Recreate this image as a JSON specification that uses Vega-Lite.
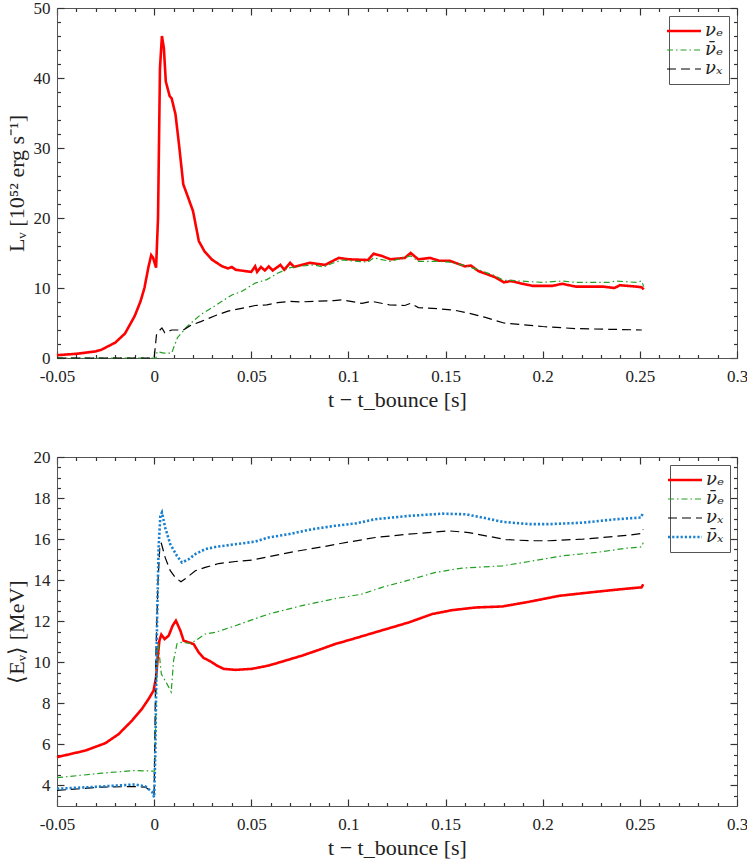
{
  "$schema": "https://vega.github.io/schema/vega-lite/v6.json",
  "background": "white",
  "padding": {"left": 4, "top": -2, "right": 0, "bottom": 0},
  "spacing": 36,
  "datasets": {
    "lum": [
      {"t": -0.05, "v": 0.4, "s": "νₑ"}, {"t": -0.04, "v": 0.6, "s": "νₑ"}, {"t": -0.03, "v": 0.95, "s": "νₑ"},
      {"t": -0.027, "v": 1.2, "s": "νₑ"}, {"t": -0.02, "v": 2.2, "s": "νₑ"}, {"t": -0.015, "v": 3.5, "s": "νₑ"},
      {"t": -0.01, "v": 6.0, "s": "νₑ"}, {"t": -0.007, "v": 8.1, "s": "νₑ"}, {"t": -0.005, "v": 10.0, "s": "νₑ"},
      {"t": -0.003, "v": 12.9, "s": "νₑ"}, {"t": -0.0015, "v": 14.7, "s": "νₑ"}, {"t": -0.0005, "v": 14.3, "s": "νₑ"},
      {"t": 0.0, "v": 13.8, "s": "νₑ"}, {"t": 0.001, "v": 12.9, "s": "νₑ"}, {"t": 0.002, "v": 20.0, "s": "νₑ"},
      {"t": 0.003, "v": 41.4, "s": "νₑ"}, {"t": 0.004, "v": 46.0, "s": "νₑ"}, {"t": 0.005, "v": 44.3, "s": "νₑ"},
      {"t": 0.006, "v": 39.5, "s": "νₑ"}, {"t": 0.008, "v": 37.4, "s": "νₑ"}, {"t": 0.009, "v": 37.1, "s": "νₑ"},
      {"t": 0.011, "v": 34.8, "s": "νₑ"}, {"t": 0.013, "v": 30.0, "s": "νₑ"}, {"t": 0.015, "v": 24.8, "s": "νₑ"},
      {"t": 0.017, "v": 23.3, "s": "νₑ"}, {"t": 0.02, "v": 21.0, "s": "νₑ"}, {"t": 0.023, "v": 16.7, "s": "νₑ"},
      {"t": 0.026, "v": 15.2, "s": "νₑ"}, {"t": 0.03, "v": 14.0, "s": "νₑ"}, {"t": 0.035, "v": 13.1, "s": "νₑ"},
      {"t": 0.038, "v": 12.8, "s": "νₑ"}, {"t": 0.04, "v": 13.0, "s": "νₑ"}, {"t": 0.042, "v": 12.6, "s": "νₑ"},
      {"t": 0.05, "v": 12.3, "s": "νₑ"}, {"t": 0.052, "v": 13.1, "s": "νₑ"}, {"t": 0.053, "v": 12.3, "s": "νₑ"},
      {"t": 0.055, "v": 13.0, "s": "νₑ"}, {"t": 0.057, "v": 12.5, "s": "νₑ"}, {"t": 0.059, "v": 13.1, "s": "νₑ"},
      {"t": 0.061, "v": 12.5, "s": "νₑ"}, {"t": 0.065, "v": 13.3, "s": "νₑ"}, {"t": 0.067, "v": 12.6, "s": "νₑ"},
      {"t": 0.07, "v": 13.6, "s": "νₑ"}, {"t": 0.072, "v": 13.0, "s": "νₑ"}, {"t": 0.08, "v": 13.6, "s": "νₑ"},
      {"t": 0.088, "v": 13.3, "s": "νₑ"}, {"t": 0.095, "v": 14.3, "s": "νₑ"}, {"t": 0.1, "v": 14.1, "s": "νₑ"},
      {"t": 0.11, "v": 14.0, "s": "νₑ"}, {"t": 0.113, "v": 14.9, "s": "νₑ"}, {"t": 0.117, "v": 14.6, "s": "νₑ"},
      {"t": 0.1216, "v": 14.1, "s": "νₑ"}, {"t": 0.129, "v": 14.3, "s": "νₑ"}, {"t": 0.132, "v": 15.0, "s": "νₑ"},
      {"t": 0.136, "v": 14.1, "s": "νₑ"}, {"t": 0.142, "v": 14.3, "s": "νₑ"}, {"t": 0.1466, "v": 13.9, "s": "νₑ"},
      {"t": 0.152, "v": 13.9, "s": "νₑ"}, {"t": 0.16, "v": 13.1, "s": "νₑ"}, {"t": 0.163, "v": 13.2, "s": "νₑ"},
      {"t": 0.167, "v": 12.4, "s": "νₑ"}, {"t": 0.175, "v": 11.6, "s": "νₑ"}, {"t": 0.18, "v": 10.8, "s": "νₑ"},
      {"t": 0.1836, "v": 11.0, "s": "νₑ"}, {"t": 0.188, "v": 10.7, "s": "νₑ"}, {"t": 0.195, "v": 10.3, "s": "νₑ"},
      {"t": 0.205, "v": 10.3, "s": "νₑ"}, {"t": 0.21, "v": 10.6, "s": "νₑ"}, {"t": 0.217, "v": 10.2, "s": "νₑ"},
      {"t": 0.231, "v": 10.2, "s": "νₑ"}, {"t": 0.237, "v": 10.0, "s": "νₑ"}, {"t": 0.2397, "v": 10.4, "s": "νₑ"},
      {"t": 0.248, "v": 10.2, "s": "νₑ"}, {"t": 0.2509, "v": 10.1, "s": "νₑ"}, {"t": 0.252, "v": 9.8, "s": "νₑ"},

      {"t": -0.05, "v": 0.0, "s": "ν̄ₑ"}, {"t": 0.001, "v": 0.0, "s": "ν̄ₑ"}, {"t": 0.0015, "v": 0.9, "s": "ν̄ₑ"},
      {"t": 0.005, "v": 0.7, "s": "ν̄ₑ"}, {"t": 0.009, "v": 0.7, "s": "ν̄ₑ"}, {"t": 0.012, "v": 2.9, "s": "ν̄ₑ"},
      {"t": 0.017, "v": 4.5, "s": "ν̄ₑ"}, {"t": 0.024, "v": 6.2, "s": "ν̄ₑ"}, {"t": 0.031, "v": 7.4, "s": "ν̄ₑ"},
      {"t": 0.036, "v": 8.3, "s": "ν̄ₑ"}, {"t": 0.04, "v": 9.0, "s": "ν̄ₑ"}, {"t": 0.045, "v": 9.5, "s": "ν̄ₑ"},
      {"t": 0.052, "v": 10.7, "s": "ν̄ₑ"}, {"t": 0.058, "v": 11.2, "s": "ν̄ₑ"}, {"t": 0.0635, "v": 12.1, "s": "ν̄ₑ"},
      {"t": 0.07, "v": 12.9, "s": "ν̄ₑ"}, {"t": 0.075, "v": 13.1, "s": "ν̄ₑ"}, {"t": 0.082, "v": 13.3, "s": "ν̄ₑ"},
      {"t": 0.087, "v": 13.0, "s": "ν̄ₑ"}, {"t": 0.0925, "v": 13.6, "s": "ν̄ₑ"}, {"t": 0.0966, "v": 14.0, "s": "ν̄ₑ"},
      {"t": 0.11, "v": 13.7, "s": "ν̄ₑ"}, {"t": 0.113, "v": 14.3, "s": "ν̄ₑ"}, {"t": 0.1216, "v": 13.8, "s": "ν̄ₑ"},
      {"t": 0.132, "v": 14.6, "s": "ν̄ₑ"}, {"t": 0.136, "v": 13.8, "s": "ν̄ₑ"}, {"t": 0.1466, "v": 13.8, "s": "ν̄ₑ"},
      {"t": 0.152, "v": 13.7, "s": "ν̄ₑ"}, {"t": 0.16, "v": 13.2, "s": "ν̄ₑ"}, {"t": 0.167, "v": 12.6, "s": "ν̄ₑ"},
      {"t": 0.175, "v": 11.8, "s": "ν̄ₑ"}, {"t": 0.18, "v": 11.1, "s": "ν̄ₑ"}, {"t": 0.1836, "v": 11.1, "s": "ν̄ₑ"},
      {"t": 0.188, "v": 11.0, "s": "ν̄ₑ"}, {"t": 0.2, "v": 10.8, "s": "ν̄ₑ"}, {"t": 0.21, "v": 11.0, "s": "ν̄ₑ"},
      {"t": 0.217, "v": 10.8, "s": "ν̄ₑ"}, {"t": 0.234, "v": 10.8, "s": "ν̄ₑ"}, {"t": 0.2379, "v": 11.0, "s": "ν̄ₑ"},
      {"t": 0.248, "v": 10.8, "s": "ν̄ₑ"}, {"t": 0.2509, "v": 11.0, "s": "ν̄ₑ"}, {"t": 0.252, "v": 10.2, "s": "ν̄ₑ"},

      {"t": -0.05, "v": 0.0, "s": "νₓ"}, {"t": 0.0, "v": 0.0, "s": "νₓ"}, {"t": 0.0012, "v": 3.3, "s": "νₓ"},
      {"t": 0.003, "v": 4.0, "s": "νₓ"}, {"t": 0.004, "v": 4.3, "s": "νₓ"}, {"t": 0.0055, "v": 3.6, "s": "νₓ"},
      {"t": 0.009, "v": 4.0, "s": "νₓ"}, {"t": 0.015, "v": 4.0, "s": "νₓ"}, {"t": 0.019, "v": 4.7, "s": "νₓ"},
      {"t": 0.024, "v": 5.2, "s": "νₓ"}, {"t": 0.031, "v": 6.0, "s": "νₓ"}, {"t": 0.038, "v": 6.7, "s": "νₓ"},
      {"t": 0.045, "v": 7.1, "s": "νₓ"}, {"t": 0.052, "v": 7.5, "s": "νₓ"}, {"t": 0.058, "v": 7.6, "s": "νₓ"},
      {"t": 0.0635, "v": 7.9, "s": "νₓ"}, {"t": 0.07, "v": 8.1, "s": "νₓ"}, {"t": 0.075, "v": 8.0, "s": "νₓ"},
      {"t": 0.082, "v": 8.1, "s": "νₓ"}, {"t": 0.0925, "v": 8.2, "s": "νₓ"}, {"t": 0.0966, "v": 8.3, "s": "νₓ"},
      {"t": 0.107, "v": 7.8, "s": "νₓ"}, {"t": 0.112, "v": 8.1, "s": "νₓ"}, {"t": 0.121, "v": 7.6, "s": "νₓ"},
      {"t": 0.129, "v": 7.5, "s": "νₓ"}, {"t": 0.132, "v": 7.8, "s": "νₓ"}, {"t": 0.136, "v": 7.2, "s": "νₓ"},
      {"t": 0.148, "v": 7.0, "s": "νₓ"}, {"t": 0.155, "v": 6.8, "s": "νₓ"}, {"t": 0.162, "v": 6.4, "s": "νₓ"},
      {"t": 0.1705, "v": 5.8, "s": "νₓ"}, {"t": 0.18, "v": 5.0, "s": "νₓ"}, {"t": 0.188, "v": 4.8, "s": "νₓ"},
      {"t": 0.2, "v": 4.5, "s": "νₓ"}, {"t": 0.217, "v": 4.2, "s": "νₓ"}, {"t": 0.2345, "v": 4.1, "s": "νₓ"},
      {"t": 0.251, "v": 4.0, "s": "νₓ"}
    ],
    "energy": [
      {"t": -0.05, "v": 5.38, "s": "νₑ"}, {"t": -0.0354, "v": 5.7, "s": "νₑ"}, {"t": -0.0251, "v": 6.06, "s": "νₑ"},
      {"t": -0.0183, "v": 6.5, "s": "νₑ"}, {"t": -0.0114, "v": 7.16, "s": "νₑ"}, {"t": -0.0063, "v": 7.73, "s": "νₑ"},
      {"t": -0.0028, "v": 8.22, "s": "νₑ"}, {"t": -0.0003, "v": 8.62, "s": "νₑ"}, {"t": 0.001, "v": 9.27, "s": "νₑ"},
      {"t": 0.002, "v": 10.4, "s": "νₑ"}, {"t": 0.0027, "v": 11.05, "s": "νₑ"}, {"t": 0.0037, "v": 11.35, "s": "νₑ"},
      {"t": 0.0054, "v": 11.13, "s": "νₑ"}, {"t": 0.0075, "v": 11.3, "s": "νₑ"}, {"t": 0.0095, "v": 11.78, "s": "νₑ"},
      {"t": 0.0112, "v": 12.03, "s": "νₑ"}, {"t": 0.0135, "v": 11.54, "s": "νₑ"}, {"t": 0.0152, "v": 11.05, "s": "νₑ"},
      {"t": 0.0178, "v": 10.97, "s": "νₑ"}, {"t": 0.0203, "v": 10.89, "s": "νₑ"}, {"t": 0.0229, "v": 10.49, "s": "νₑ"},
      {"t": 0.0255, "v": 10.21, "s": "νₑ"}, {"t": 0.0289, "v": 10.05, "s": "νₑ"}, {"t": 0.0323, "v": 9.84, "s": "νₑ"},
      {"t": 0.0358, "v": 9.68, "s": "νₑ"}, {"t": 0.0418, "v": 9.63, "s": "νₑ"}, {"t": 0.0503, "v": 9.68, "s": "νₑ"},
      {"t": 0.0589, "v": 9.84, "s": "νₑ"}, {"t": 0.0675, "v": 10.08, "s": "νₑ"}, {"t": 0.076, "v": 10.32, "s": "νₑ"},
      {"t": 0.0846, "v": 10.6, "s": "νₑ"}, {"t": 0.0932, "v": 10.89, "s": "νₑ"}, {"t": 0.1017, "v": 11.12, "s": "νₑ"},
      {"t": 0.1138, "v": 11.46, "s": "νₑ"}, {"t": 0.131, "v": 11.94, "s": "νₑ"}, {"t": 0.1431, "v": 12.35, "s": "νₑ"},
      {"t": 0.1534, "v": 12.54, "s": "νₑ"}, {"t": 0.1655, "v": 12.67, "s": "νₑ"}, {"t": 0.1793, "v": 12.72, "s": "νₑ"},
      {"t": 0.1931, "v": 12.95, "s": "νₑ"}, {"t": 0.2086, "v": 13.24, "s": "νₑ"}, {"t": 0.2241, "v": 13.4, "s": "νₑ"},
      {"t": 0.2362, "v": 13.52, "s": "νₑ"}, {"t": 0.2448, "v": 13.6, "s": "νₑ"}, {"t": 0.2509, "v": 13.65, "s": "νₑ"},
      {"t": 0.2517, "v": 13.8, "s": "νₑ"},

      {"t": -0.05, "v": 4.38, "s": "ν̄ₑ"}, {"t": -0.0268, "v": 4.6, "s": "ν̄ₑ"}, {"t": -0.0097, "v": 4.73, "s": "ν̄ₑ"},
      {"t": -0.0011, "v": 4.7, "s": "ν̄ₑ"}, {"t": 0.0003, "v": 4.7, "s": "ν̄ₑ"}, {"t": 0.0015, "v": 10.57, "s": "ν̄ₑ"},
      {"t": 0.002, "v": 11.0, "s": "ν̄ₑ"}, {"t": 0.0037, "v": 9.43, "s": "ν̄ₑ"}, {"t": 0.0066, "v": 8.95, "s": "ν̄ₑ"},
      {"t": 0.0088, "v": 8.55, "s": "ν̄ₑ"}, {"t": 0.01, "v": 10.08, "s": "ν̄ₑ"}, {"t": 0.0118, "v": 10.92, "s": "ν̄ₑ"},
      {"t": 0.0143, "v": 10.97, "s": "ν̄ₑ"}, {"t": 0.0186, "v": 10.92, "s": "ν̄ₑ"}, {"t": 0.0212, "v": 11.05, "s": "ν̄ₑ"},
      {"t": 0.0263, "v": 11.38, "s": "ν̄ₑ"}, {"t": 0.0315, "v": 11.46, "s": "ν̄ₑ"}, {"t": 0.0418, "v": 11.78, "s": "ν̄ₑ"},
      {"t": 0.0589, "v": 12.35, "s": "ν̄ₑ"}, {"t": 0.0761, "v": 12.76, "s": "ν̄ₑ"}, {"t": 0.0932, "v": 13.1, "s": "ν̄ₑ"},
      {"t": 0.1069, "v": 13.32, "s": "ν̄ₑ"}, {"t": 0.1172, "v": 13.65, "s": "ν̄ₑ"}, {"t": 0.131, "v": 14.0, "s": "ν̄ₑ"},
      {"t": 0.1448, "v": 14.38, "s": "ν̄ₑ"}, {"t": 0.1586, "v": 14.59, "s": "ν̄ₑ"}, {"t": 0.1793, "v": 14.7, "s": "ν̄ₑ"},
      {"t": 0.1931, "v": 14.91, "s": "ν̄ₑ"}, {"t": 0.2103, "v": 15.19, "s": "ν̄ₑ"}, {"t": 0.2276, "v": 15.35, "s": "ν̄ₑ"},
      {"t": 0.2431, "v": 15.56, "s": "ν̄ₑ"}, {"t": 0.2509, "v": 15.62, "s": "ν̄ₑ"}, {"t": 0.2517, "v": 15.83, "s": "ν̄ₑ"},

      {"t": -0.05, "v": 3.76, "s": "νₓ"}, {"t": -0.0268, "v": 3.92, "s": "νₓ"}, {"t": -0.0097, "v": 3.95, "s": "νₓ"},
      {"t": -0.0045, "v": 3.92, "s": "νₓ"}, {"t": -0.001, "v": 3.68, "s": "νₓ"}, {"t": 0.0, "v": 3.6, "s": "νₓ"},
      {"t": 0.0009, "v": 10.4, "s": "νₓ"}, {"t": 0.002, "v": 14.0, "s": "νₓ"}, {"t": 0.003, "v": 15.75, "s": "νₓ"},
      {"t": 0.0037, "v": 15.8, "s": "νₓ"}, {"t": 0.0057, "v": 15.1, "s": "νₓ"}, {"t": 0.0083, "v": 14.46, "s": "νₓ"},
      {"t": 0.0109, "v": 14.13, "s": "νₓ"}, {"t": 0.0138, "v": 13.92, "s": "νₓ"}, {"t": 0.0169, "v": 14.13, "s": "νₓ"},
      {"t": 0.0212, "v": 14.46, "s": "νₓ"}, {"t": 0.0263, "v": 14.62, "s": "νₓ"}, {"t": 0.0332, "v": 14.81, "s": "νₓ"},
      {"t": 0.0418, "v": 14.91, "s": "νₓ"}, {"t": 0.0503, "v": 14.98, "s": "νₓ"}, {"t": 0.0589, "v": 15.14, "s": "νₓ"},
      {"t": 0.0726, "v": 15.4, "s": "νₓ"}, {"t": 0.0864, "v": 15.62, "s": "νₓ"}, {"t": 0.0966, "v": 15.8, "s": "νₓ"},
      {"t": 0.1138, "v": 16.08, "s": "νₓ"}, {"t": 0.131, "v": 16.24, "s": "νₓ"}, {"t": 0.1517, "v": 16.4, "s": "νₓ"},
      {"t": 0.162, "v": 16.32, "s": "νₓ"}, {"t": 0.1707, "v": 16.16, "s": "νₓ"}, {"t": 0.181, "v": 15.98, "s": "νₓ"},
      {"t": 0.1931, "v": 15.92, "s": "νₓ"}, {"t": 0.2034, "v": 15.92, "s": "νₓ"}, {"t": 0.2207, "v": 16.0, "s": "νₓ"},
      {"t": 0.2345, "v": 16.11, "s": "νₓ"}, {"t": 0.2448, "v": 16.2, "s": "νₓ"}, {"t": 0.2505, "v": 16.27, "s": "νₓ"},
      {"t": 0.2517, "v": 16.48, "s": "νₓ"},

      {"t": -0.05, "v": 3.84, "s": "ν̄ₓ"}, {"t": -0.0268, "v": 3.95, "s": "ν̄ₓ"}, {"t": -0.0097, "v": 4.05, "s": "ν̄ₓ"},
      {"t": -0.0045, "v": 3.95, "s": "ν̄ₓ"}, {"t": -0.001, "v": 3.68, "s": "ν̄ₓ"}, {"t": 0.0, "v": 3.43, "s": "ν̄ₓ"},
      {"t": 0.0006, "v": 5.54, "s": "ν̄ₓ"}, {"t": 0.0015, "v": 12.0, "s": "ν̄ₓ"}, {"t": 0.0023, "v": 15.6, "s": "ν̄ₓ"},
      {"t": 0.0032, "v": 17.13, "s": "ν̄ₓ"}, {"t": 0.004, "v": 17.3, "s": "ν̄ₓ"}, {"t": 0.0057, "v": 16.56, "s": "ν̄ₓ"},
      {"t": 0.0083, "v": 15.75, "s": "ν̄ₓ"}, {"t": 0.0117, "v": 15.19, "s": "ν̄ₓ"}, {"t": 0.0143, "v": 14.86, "s": "ν̄ₓ"},
      {"t": 0.0178, "v": 15.02, "s": "ν̄ₓ"}, {"t": 0.0212, "v": 15.27, "s": "ν̄ₓ"}, {"t": 0.0263, "v": 15.51, "s": "ν̄ₓ"},
      {"t": 0.0315, "v": 15.62, "s": "ν̄ₓ"}, {"t": 0.0418, "v": 15.75, "s": "ν̄ₓ"}, {"t": 0.0521, "v": 15.88, "s": "ν̄ₓ"},
      {"t": 0.0589, "v": 16.08, "s": "ν̄ₓ"}, {"t": 0.0692, "v": 16.24, "s": "ν̄ₓ"}, {"t": 0.0812, "v": 16.48, "s": "ν̄ₓ"},
      {"t": 0.0932, "v": 16.65, "s": "ν̄ₓ"}, {"t": 0.1035, "v": 16.76, "s": "ν̄ₓ"}, {"t": 0.1138, "v": 16.97, "s": "ν̄ₓ"},
      {"t": 0.131, "v": 17.13, "s": "ν̄ₓ"}, {"t": 0.1483, "v": 17.24, "s": "ν̄ₓ"}, {"t": 0.1603, "v": 17.21, "s": "ν̄ₓ"},
      {"t": 0.169, "v": 17.05, "s": "ν̄ₓ"}, {"t": 0.1793, "v": 16.84, "s": "ν̄ₓ"}, {"t": 0.1931, "v": 16.73, "s": "ν̄ₓ"},
      {"t": 0.2034, "v": 16.73, "s": "ν̄ₓ"}, {"t": 0.2207, "v": 16.8, "s": "ν̄ₓ"}, {"t": 0.2379, "v": 16.97, "s": "ν̄ₓ"},
      {"t": 0.2505, "v": 17.05, "s": "ν̄ₓ"}, {"t": 0.2517, "v": 17.29, "s": "ν̄ₓ"}
    ]
  },
  "vconcat": [
    {
      "width": 680,
      "height": 350,
      "data": {"name": "lum"},
      "layer": [
        {
          "mark": {"type": "line", "strokeCap": "butt"},
          "encoding": {
            "x": {
              "field": "t", "type": "quantitative",
              "scale": {"domain": [-0.05, 0.3], "nice": false, "zero": false},
              "axis": {
                "orient": "bottom", "title": "t − t_bounce [s]", "ticks": false, "labelPadding": 10,
                "grid": true, "gridDash": [7, 2000],
                "values": [-0.05, 0, 0.05, 0.1, 0.15, 0.2, 0.25, 0.3],
                "labelExpr": "'' + datum.value"
              }
            },
            "y": {
              "field": "v", "type": "quantitative",
              "scale": {"domain": [0, 50], "nice": false},
              "axis": {
                "orient": "left", "title": "Lᵥ [10⁵² erg s⁻¹]", "ticks": false, "labelPadding": 7,
                "grid": true, "gridDash": [7, 2000],
                "values": [0, 10, 20, 30, 40, 50],
                "labelExpr": "'' + datum.value"
              }
            },
            "color": {
              "field": "s", "type": "nominal",
              "scale": {"domain": ["νₑ", "ν̄ₑ", "νₓ"], "range": ["#ff0000", "#22a022", "#000000"]},
              "legend": {
                "title": null, "orient": "none", "legendX": 612, "legendY": 8,
                "encode": {"symbols": {"update": {"strokeWidth": {"signal": "datum.value == 'νₑ' ? 2.6 : 1.2"}}}}
              }
            },
            "strokeDash": {
              "field": "s", "type": "nominal",
              "scale": {"domain": ["νₑ", "ν̄ₑ", "νₓ"], "range": [[1, 0], [6, 3, 1.5, 3], [9, 5]]},
              "legend": {
                "title": null, "orient": "none", "legendX": 612, "legendY": 8,
                "encode": {"symbols": {"update": {"strokeWidth": {"signal": "datum.value == 'νₑ' ? 2.6 : 1.2"}}}}
              }
            },
            "strokeWidth": {"condition": {"test": "datum.s == 'νₑ'", "value": 2.6}, "value": 1.2}
          }
        },
        {
          "mark": {"type": "line", "opacity": 0},
          "encoding": {
            "x": {"field": "t", "type": "quantitative", "axis": {"orient": "top", "title": null, "labels": false, "ticks": false, "domain": false, "grid": true, "gridDash": [7, 2000], "values": [-0.05, 0, 0.05, 0.1, 0.15, 0.2, 0.25, 0.3]}},
            "y": {"field": "v", "type": "quantitative", "axis": {"orient": "right", "title": null, "labels": false, "ticks": false, "domain": false, "grid": true, "gridDash": [7, 2000], "values": [0, 10, 20, 30, 40, 50]}}
          }
        },
        {
          "mark": {"type": "line", "opacity": 0},
          "encoding": {
            "x": {"field": "t", "type": "quantitative", "axis": {"orient": "bottom", "title": null, "labels": false, "ticks": false, "domain": false, "grid": true, "gridDash": [3.5, 2000],
              "values": [-0.04, -0.03, -0.02, -0.01, 0.01, 0.02, 0.03, 0.04, 0.06, 0.07, 0.08, 0.09, 0.11, 0.12, 0.13, 0.14, 0.16, 0.17, 0.18, 0.19, 0.21, 0.22, 0.23, 0.24, 0.26, 0.27, 0.28, 0.29]}},
            "y": {"field": "v", "type": "quantitative", "axis": {"orient": "left", "title": null, "labels": false, "ticks": false, "domain": false, "grid": true, "gridDash": [3.5, 2000],
              "values": [2, 4, 6, 8, 12, 14, 16, 18, 22, 24, 26, 28, 32, 34, 36, 38, 42, 44, 46, 48]}}
          }
        },
        {
          "mark": {"type": "line", "opacity": 0},
          "encoding": {
            "x": {"field": "t", "type": "quantitative", "axis": {"orient": "top", "title": null, "labels": false, "ticks": false, "domain": false, "grid": true, "gridDash": [3.5, 2000],
              "values": [-0.04, -0.03, -0.02, -0.01, 0.01, 0.02, 0.03, 0.04, 0.06, 0.07, 0.08, 0.09, 0.11, 0.12, 0.13, 0.14, 0.16, 0.17, 0.18, 0.19, 0.21, 0.22, 0.23, 0.24, 0.26, 0.27, 0.28, 0.29]}},
            "y": {"field": "v", "type": "quantitative", "axis": {"orient": "right", "title": null, "labels": false, "ticks": false, "domain": false, "grid": true, "gridDash": [3.5, 2000],
              "values": [2, 4, 6, 8, 12, 14, 16, 18, 22, 24, 26, 28, 32, 34, 36, 38, 42, 44, 46, 48]}}
          }
        }
      ],
      "resolve": {"axis": {"x": "independent", "y": "independent"}}
    },
    {
      "width": 680,
      "height": 349,
      "data": {"name": "energy"},
      "layer": [
        {
          "mark": {"type": "line", "strokeCap": "butt"},
          "encoding": {
            "x": {
              "field": "t", "type": "quantitative",
              "scale": {"domain": [-0.05, 0.3], "nice": false, "zero": false},
              "axis": {
                "orient": "bottom", "title": "t − t_bounce [s]", "ticks": false, "labelPadding": 10,
                "grid": true, "gridDash": [7, 2000],
                "values": [-0.05, 0, 0.05, 0.1, 0.15, 0.2, 0.25, 0.3],
                "labelExpr": "'' + datum.value"
              }
            },
            "y": {
              "field": "v", "type": "quantitative",
              "scale": {"domain": [3, 20], "nice": false, "zero": false},
              "axis": {
                "orient": "left", "title": "⟨Eᵥ⟩ [MeV]", "ticks": false, "labelPadding": 7,
                "grid": true, "gridDash": [7, 2000],
                "values": [4, 6, 8, 10, 12, 14, 16, 18, 20],
                "labelExpr": "'' + datum.value"
              }
            },
            "color": {
              "field": "s", "type": "nominal",
              "scale": {"domain": ["νₑ", "ν̄ₑ", "νₓ", "ν̄ₓ"], "range": ["#ff0000", "#22a022", "#000000", "#1a80d0"]},
              "legend": {
                "title": null, "orient": "none", "legendX": 613, "legendY": 8,
                "encode": {"symbols": {"update": {"strokeWidth": {"signal": "datum.value == 'νₑ' || datum.value == 'ν̄ₓ' ? 2.6 : 1.2"}}}}
              }
            },
            "strokeDash": {
              "field": "s", "type": "nominal",
              "scale": {"domain": ["νₑ", "ν̄ₑ", "νₓ", "ν̄ₓ"], "range": [[1, 0], [6, 3, 1.5, 3], [9, 5], [2.2, 2]]},
              "legend": {
                "title": null, "orient": "none", "legendX": 613, "legendY": 8,
                "encode": {"symbols": {"update": {"strokeWidth": {"signal": "datum.value == 'νₑ' || datum.value == 'ν̄ₓ' ? 2.6 : 1.2"}}}}
              }
            },
            "strokeWidth": {"condition": {"test": "datum.s == 'νₑ' || datum.s == 'ν̄ₓ'", "value": 2.6}, "value": 1.2}
          }
        },
        {
          "mark": {"type": "line", "opacity": 0},
          "encoding": {
            "x": {"field": "t", "type": "quantitative", "axis": {"orient": "top", "title": null, "labels": false, "ticks": false, "domain": false, "grid": true, "gridDash": [7, 2000], "values": [-0.05, 0, 0.05, 0.1, 0.15, 0.2, 0.25, 0.3]}},
            "y": {"field": "v", "type": "quantitative", "axis": {"orient": "right", "title": null, "labels": false, "ticks": false, "domain": false, "grid": true, "gridDash": [7, 2000], "values": [4, 6, 8, 10, 12, 14, 16, 18, 20]}}
          }
        },
        {
          "mark": {"type": "line", "opacity": 0},
          "encoding": {
            "x": {"field": "t", "type": "quantitative", "axis": {"orient": "bottom", "title": null, "labels": false, "ticks": false, "domain": false, "grid": true, "gridDash": [3.5, 2000],
              "values": [-0.04, -0.03, -0.02, -0.01, 0.01, 0.02, 0.03, 0.04, 0.06, 0.07, 0.08, 0.09, 0.11, 0.12, 0.13, 0.14, 0.16, 0.17, 0.18, 0.19, 0.21, 0.22, 0.23, 0.24, 0.26, 0.27, 0.28, 0.29]}},
            "y": {"field": "v", "type": "quantitative", "axis": {"orient": "left", "title": null, "labels": false, "ticks": false, "domain": false, "grid": true, "gridDash": [3.5, 2000],
              "values": [3.5, 4.5, 5, 5.5, 6.5, 7, 7.5, 8.5, 9, 9.5, 10.5, 11, 11.5, 12.5, 13, 13.5, 14.5, 15, 15.5, 16.5, 17, 17.5, 18.5, 19, 19.5]}}
          }
        },
        {
          "mark": {"type": "line", "opacity": 0},
          "encoding": {
            "x": {"field": "t", "type": "quantitative", "axis": {"orient": "top", "title": null, "labels": false, "ticks": false, "domain": false, "grid": true, "gridDash": [3.5, 2000],
              "values": [-0.04, -0.03, -0.02, -0.01, 0.01, 0.02, 0.03, 0.04, 0.06, 0.07, 0.08, 0.09, 0.11, 0.12, 0.13, 0.14, 0.16, 0.17, 0.18, 0.19, 0.21, 0.22, 0.23, 0.24, 0.26, 0.27, 0.28, 0.29]}},
            "y": {"field": "v", "type": "quantitative", "axis": {"orient": "right", "title": null, "labels": false, "ticks": false, "domain": false, "grid": true, "gridDash": [3.5, 2000],
              "values": [3.5, 4.5, 5, 5.5, 6.5, 7, 7.5, 8.5, 9, 9.5, 10.5, 11, 11.5, 12.5, 13, 13.5, 14.5, 15, 15.5, 16.5, 17, 17.5, 18.5, 19, 19.5]}}
          }
        }
      ],
      "resolve": {"axis": {"x": "independent", "y": "independent"}}
    }
  ],
  "resolve": {
    "scale": {"x": "independent", "y": "independent", "color": "independent", "strokeDash": "independent"},
    "legend": {"color": "independent", "strokeDash": "independent"}
  },
  "config": {
    "view": {"stroke": "#555"},
    "axis": {
      "labelFont": "Liberation Serif",
      "labelFontSize": 17,
      "labelColor": "#222",
      "labelOverlap": false,
      "labelFlush": false,
      "titleFont": "Liberation Serif",
      "titleFontSize": 22,
      "titleFontWeight": "normal",
      "titleColor": "#222",
      "titlePadding": 5,
      "domainColor": "#555",
      "gridColor": "#333",
      "gridWidth": 1.2,
      "gridOpacity": 1
    },
    "legend": {
      "labelFont": "DejaVu Serif",
      "labelFontSize": 18,
      "labelFontStyle": "italic",
      "labelColor": "#222",
      "symbolType": "M-1.7,0H1.7",
      "symbolSize": 400,
      "symbolStrokeWidth": 1.2,
      "symbolFillColor": "transparent",
      "strokeColor": "#555",
      "fillColor": "white",
      "padding": 6,
      "rowPadding": 1,
      "labelOffset": 12,
      "cornerRadius": 0
    }
  }
}
